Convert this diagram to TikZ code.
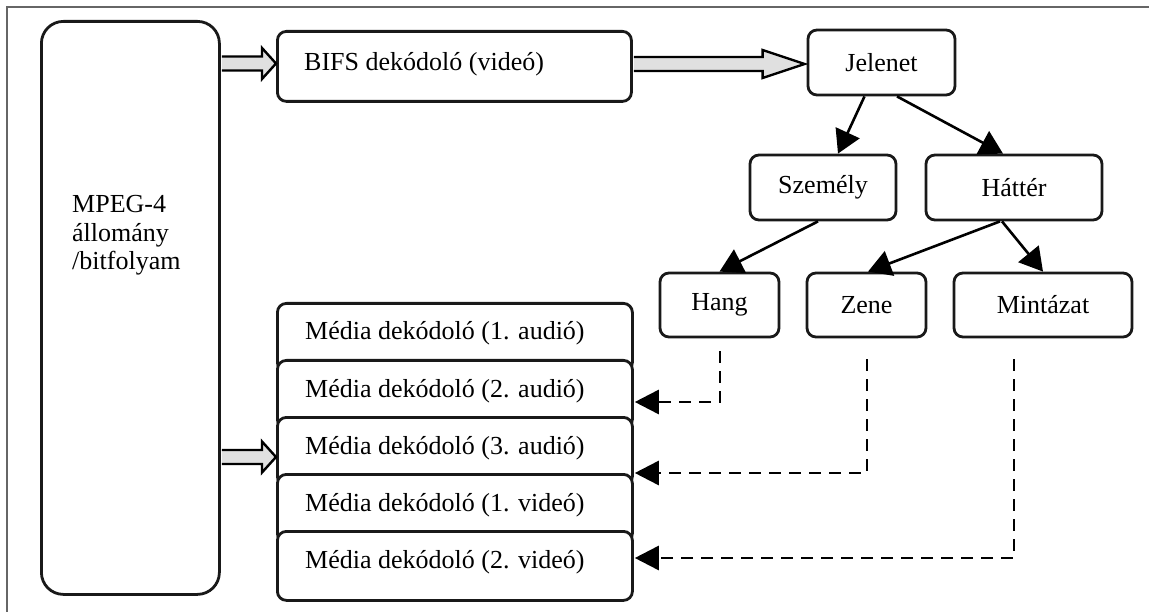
\documentclass[tikz,border=0pt]{standalone}
\usepackage{fontspec}
\setmainfont{Liberation Serif}
\usetikzlibrary{arrows.meta,calc}
\begin{document}
\begin{tikzpicture}[x=1pt,y=-1pt,
  box/.style={draw=black!90, line width=2.8pt, rounded corners=9pt, fill=white, inner sep=0pt},
  lbl/.style={inner sep=0pt, font=\fontsize{26}{28.5}\selectfont},
  tree/.style={draw=black, line width=2.6pt, -{Triangle[length=23pt,width=26pt]}},
  dsh/.style={draw=black, line width=2.7pt, dash pattern=on 12pt off 8pt, -{Triangle[length=24pt,width=24pt]}},
  fat/.style={draw=black, line width=2.4pt, fill=black!12, line join=miter}
]
\path[use as bounding box] (0,0) rectangle (1149,612);
% frame
\draw[black!60, line width=1.2pt] (1149,7) -- (7,7) -- (7,612);

% MPEG box
\node[box, rounded corners=22pt, minimum width=178, minimum height=573, anchor=north west] (mpeg) at (40,20) {};
\node[lbl, anchor=base west] (mp1) at (72,213) {MPEG-4};
\node[lbl, anchor=base west] (mp2) at (72,242) {állomány};
\node[lbl, anchor=base west] (mp3) at (72,270) {/bitfolyam};

% BIFS
\node[box, anchor=north west, minimum width=354, minimum height=70] (bifs) at (276,30) {};
\node[lbl, anchor=base west] (bifst) at (304,71) {BIFS dekódoló (videó)};

% tree
\node[box, lbl, minimum width=147, minimum height=65] (jel) at (881.5,62.5) {Jelenet};
\node[box, lbl, minimum width=146, minimum height=65] (szem) at (823,187.5) {Személy};
\node[box, lbl, minimum width=176, minimum height=65] (hat) at (1014,187.5) {Háttér};
\node[box, lbl, minimum width=119, minimum height=64] (hang) at (719.5,305) {Hang};
\node[box, lbl, minimum width=119, minimum height=64] (zene) at (866.5,305) {Zene};
\node[box, lbl, minimum width=178, minimum height=64] (mint) at (1043,305) {Mintázat};

% media decoders (overlapping stack)
\node[box, anchor=north west, minimum width=355, minimum height=68] (m1) at (276,302) {};
\node[box, anchor=north west, minimum width=355, minimum height=68] (m2) at (276,359) {};
\node[box, anchor=north west, minimum width=355, minimum height=68] (m3) at (276,416) {};
\node[box, anchor=north west, minimum width=355, minimum height=68] (m4) at (276,473) {};
\node[box, anchor=north west, minimum width=355, minimum height=69] (m5) at (276,530) {};
\node[lbl, anchor=base west] (m1t) at (305,340) {Média dekódoló (1. audió)};
\node[lbl, anchor=base west] (m2t) at (305,397) {Média dekódoló (2. audió)};
\node[lbl, anchor=base west] (m3t) at (305,454) {Média dekódoló (3. audió)};
\node[lbl, anchor=base west] (m4t) at (305,511) {Média dekódoló (1. videó)};
\node[lbl, anchor=base west] (m5t) at (305,568) {Média dekódoló (2. videó)};

% fat arrows
\coordinate (a1s) at (mpeg.east |- 0,63.5);
\coordinate (a1e) at (bifs.west |- 0,63.5);
\coordinate (a2s) at (bifs.east |- 0,64);
\coordinate (a2e) at ($(jel.west |- 0,64)+(-2,0)$);
\coordinate (a3s) at (mpeg.east |- 0,457);
\coordinate (a3e) at (m3.west |- 0,457);
\draw[fat] ($(a1s)+(1,-7)$) -- ($(a1e)+(-14,-7)$) -- ($(a1e)+(-14,-15.5)$) -- (a1e) -- ($(a1e)+(-14,15.5)$) -- ($(a1e)+(-14,7)$) -- ($(a1s)+(1,7)$);
\draw[fat] ($(a2s)+(1,-7)$) -- ($(a2e)+(-42,-7)$) -- ($(a2e)+(-42,-14)$) -- (a2e) -- ($(a2e)+(-42,14)$) -- ($(a2e)+(-42,7)$) -- ($(a2s)+(1,7)$);
\draw[fat] ($(a3s)+(1,-7)$) -- ($(a3e)+(-14,-7)$) -- ($(a3e)+(-14,-15.5)$) -- (a3e) -- ($(a3e)+(-14,15.5)$) -- ($(a3e)+(-14,7)$) -- ($(a3s)+(1,7)$);

% tree connectors
\draw[tree] ($(jel.south)+(-17,0)$) -- ($(szem.north)+(15,0)$);
\draw[tree] ($(jel.south)+(15.5,0)$) -- ($(hat.north)+(-11,0)$);
\draw[tree] ($(szem.south)+(-5,0)$) -- ($(hang.north)+(0,0)$);
\draw[tree] ($(hat.south)+(-14,0)$) -- ($(zene.north)+(1.5,0)$);
\draw[tree] ($(hat.south)+(-12,0)$) -- ($(mint.north)+(0,0)$);

% dashed connectors
\draw[dsh] ($(hang.south)+(0.5,13)$) |- ($(m2.north east)+(1,43)$);
\draw[dsh] ($(zene.south)+(0.5,21)$) |- ($(m3.north east)+(1,57)$);
\draw[dsh] ($(mint.south)+(-29,21)$) |- ($(m5.north east)+(1,28)$);
\end{tikzpicture}
\end{document}
